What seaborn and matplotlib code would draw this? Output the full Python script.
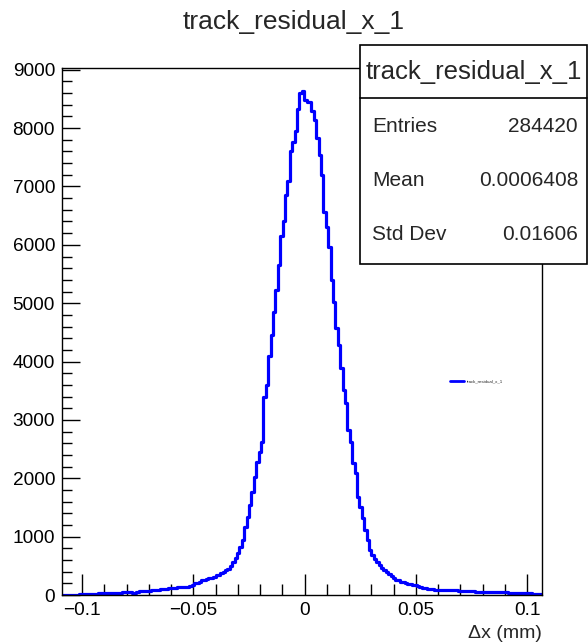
import matplotlib
matplotlib.use("Agg")
import matplotlib.pyplot as plt
from matplotlib.patches import Rectangle
from matplotlib.lines import Line2D
from matplotlib.ticker import MultipleLocator
import numpy as np
import pandas as pd
import seaborn as sns

# histogram: 200 bins between x_lo and x_hi (mm)
x_lo = -0.109
x_hi = 0.1066
counts = [
    2, 3, 4, 5, 6, 8, 8, 9, 10, 12,
    12, 14, 15, 16, 18, 34, 36, 38, 39, 40,
    38, 40, 41, 40, 42, 44, 46, 48, 50, 32,
    35, 55, 62, 68, 70, 70, 74, 78, 80, 86,
    90, 95, 100, 105, 112, 118, 122, 126, 130, 136,
    140, 142, 145, 150, 165, 200, 210, 230, 250, 258,
    270, 285, 295, 315, 335, 350, 370, 390, 420, 450,
    490, 560, 640, 720, 830, 943, 1171, 1342, 1543, 1771,
    2028, 2285, 2457, 2628, 3400, 3600, 4100, 4457, 4857, 5230,
    5657, 6143, 6400, 6860, 7100, 7600, 7770, 7950, 8330, 8600,
    8640, 8475, 8440, 8440, 8300, 8143, 7834, 7543, 7200, 6571,
    6314, 5971, 5400, 5028, 4577, 4286, 3891, 3514, 3291, 2828,
    2628, 2263, 2091, 1685, 1514, 1320, 1114, 943, 771, 680,
    620, 560, 510, 470, 430, 400, 360, 330, 290, 265,
    250, 230, 215, 205, 195, 185, 175, 168, 155, 140,
    128, 120, 110, 102, 98, 92, 90, 88, 86, 86,
    84, 82, 80, 80, 78, 76, 74, 72, 70, 68,
    64, 60, 58, 57, 56, 56, 55, 54, 52, 50,
    50, 48, 47, 46, 45, 44, 42, 40, 32, 30,
    30, 29, 28, 28, 27, 26, 25, 24, 24, 22,
]
hist_name = "track_residual_x_1"
stat_labels = ["Entries", "Mean", "Std Dev"]
stat_values = ["284420", "0.0006408", "0.01606"]
xtick_vals = [-0.1, -0.05, 0, 0.05, 0.1]
xtick_labels = ["\u22120.1", "\u22120.05", "0", "0.05", "0.1"]
ytick_vals = [0, 1000, 2000, 3000, 4000, 5000, 6000, 7000, 8000, 9000]

edges = np.linspace(x_lo, x_hi, len(counts) + 1)
df = pd.DataFrame({"x": 0.5 * (edges[:-1] + edges[1:]), "n": counts})

sns.set_theme(style="white")
plt.rcParams["font.family"] = ["Liberation Sans", "DejaVu Sans"]

fig = plt.figure(figsize=(5.88, 6.43), dpi=100)
ax = fig.add_axes([62 / 588, 1 - 595 / 643, (541.7 - 62) / 588, (595 - 68) / 643])

sns.histplot(data=df, x="x", weights="n", bins=len(counts), binrange=(x_lo, x_hi),
             element="step", fill=False, color="#0000ff", linewidth=2.3, ax=ax)

ax.set_xlim(x_lo, x_hi)
ax.set_ylim(0, 9030)
ax.set_xticks(xtick_vals)
ax.set_xticklabels(xtick_labels)
ax.set_yticks(ytick_vals)
ax.xaxis.set_minor_locator(MultipleLocator(0.01))
ax.yaxis.set_minor_locator(MultipleLocator(200))
ax.tick_params(which="both", direction="in", bottom=True, left=True, top=False, right=False,
               color="black", width=1, labelsize=13.7, labelcolor="black")
ax.tick_params(axis="x", which="major", length=15, pad=5)
ax.tick_params(axis="x", which="minor", length=8)
ax.tick_params(axis="y", which="major", length=13, pad=5)
ax.tick_params(axis="y", which="minor", length=7)
for s in ax.spines.values():
    s.set_color("black")
    s.set_linewidth(1)
ax.set_ylabel("")
ax.set_xlabel("\u0394x (mm)", fontsize=14, loc="right", labelpad=4)

# tiny legend like ROOT's
leg = ax.legend(handles=[Line2D([], [], color="#0000ff", lw=2)], labels=[hist_name],
                loc="center", bbox_to_anchor=(0.865, 0.406), frameon=False,
                fontsize=3.2, handlelength=3, handletextpad=0.8)

fig.text(0.5, 1 - 22 / 643, hist_name, ha="center", va="center", fontsize=19)

# stats box
bx0, bx1 = 360 / 588, 587 / 588
by0, by1 = 1 - 264 / 643, 1 - 45 / 643
fig.patches.append(Rectangle((bx0, by0), bx1 - bx0, by1 - by0, transform=fig.transFigure,
                             facecolor="white", edgecolor="black", lw=1.2, zorder=5))
fig.add_artist(Line2D([bx0, bx1], [1 - 98 / 643] * 2, transform=fig.transFigure,
                      color="black", lw=1.2, zorder=6))
fig.text((bx0 + bx1) / 2, 1 - 72 / 643, hist_name, ha="center", va="center",
         fontsize=18.5, zorder=7)
for i, (lab, val) in enumerate(zip(stat_labels, stat_values)):
    yy = 1 - (127 + 54 * i) / 643
    fig.text(372 / 588, yy, lab, ha="left", va="center", fontsize=15, zorder=7)
    fig.text(578 / 588, yy, val, ha="right", va="center", fontsize=15, zorder=7)

fig.savefig("out.png", dpi=100)
